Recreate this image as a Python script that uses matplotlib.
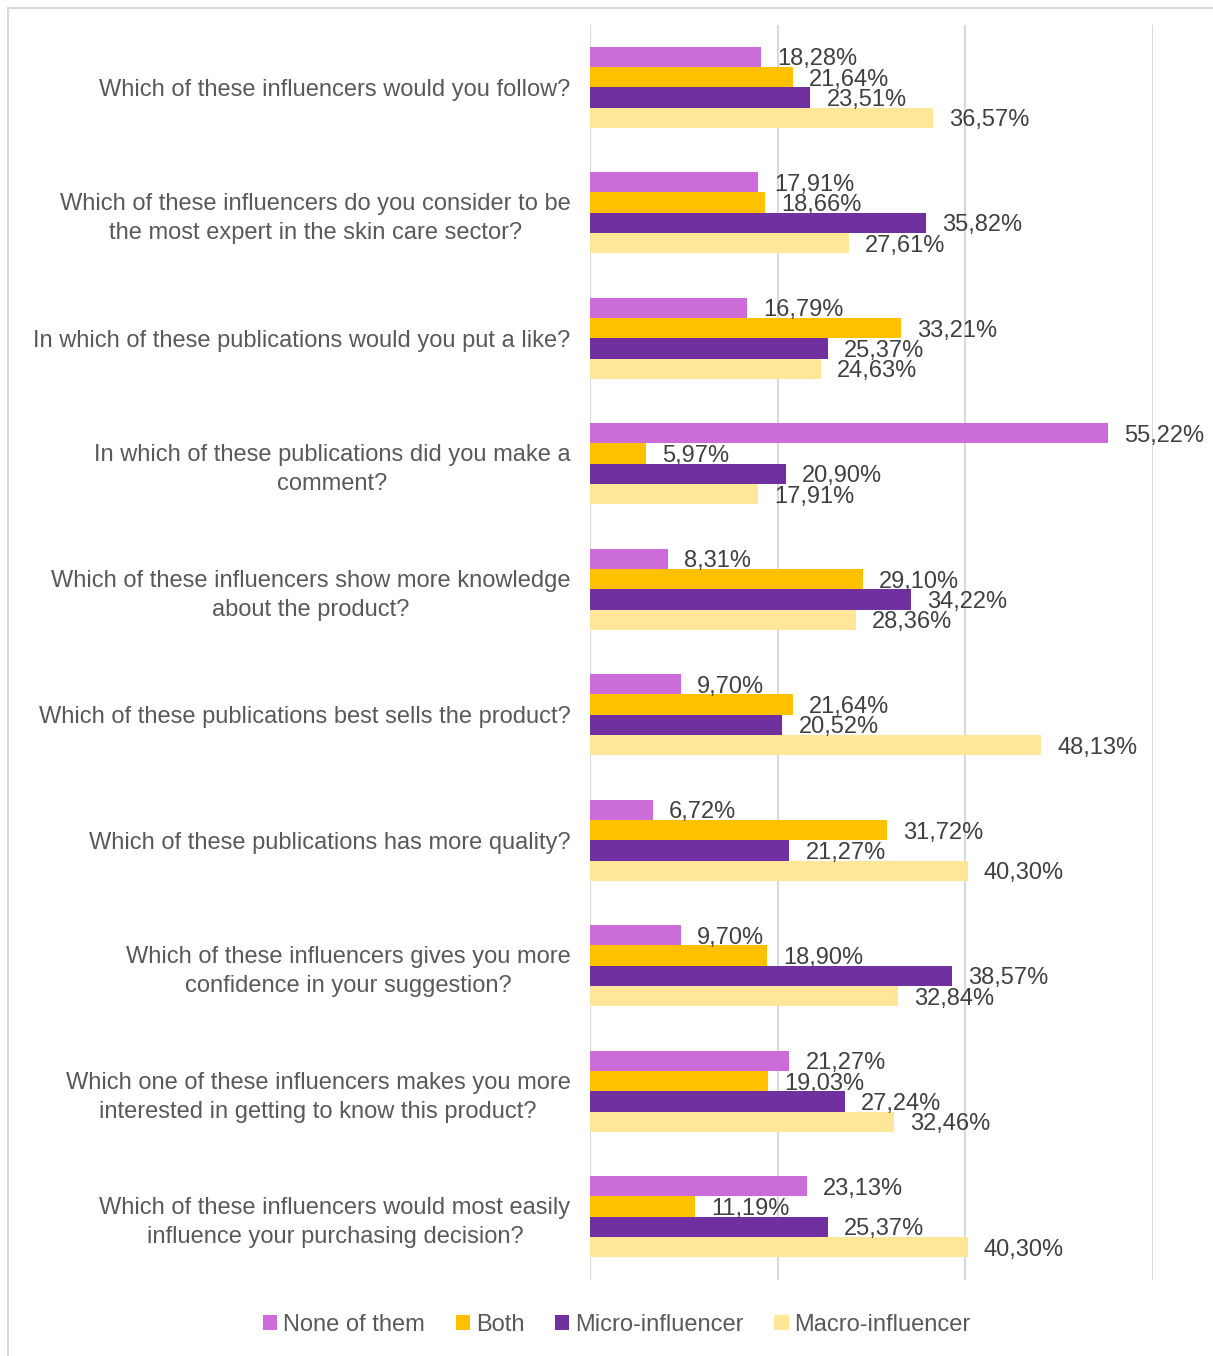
import numpy as np
import matplotlib.pyplot as plt
from matplotlib.patches import Rectangle, Patch
from matplotlib.transforms import offset_copy

plt.rcParams['font.family'] = ['Liberation Sans', 'DejaVu Sans']

questions = [
    "Which of these influencers would you follow?",
    "Which of these influencers do you consider to be\nthe most expert in the skin care sector?",
    "In which of these publications would you put a like?",
    "In which of these publications did you make a\ncomment?",
    "Which of these influencers show more knowledge\nabout the product?",
    "Which of these publications best sells the product?",
    "Which of these publications has more quality?",
    "Which of these influencers gives you more\nconfidence in your suggestion?",
    "Which one of these influencers makes you more\ninterested in getting to know this product?",
    "Which of these influencers would most easily\ninfluence your purchasing decision?",
]

none_of_them = [18.28, 17.91, 16.79, 55.22, 8.31, 9.70, 6.72, 9.70, 21.27, 23.13]
both = [21.64, 18.66, 33.21, 5.97, 29.10, 21.64, 31.72, 18.90, 19.03, 11.19]
micro = [23.51, 35.82, 25.37, 20.90, 34.22, 20.52, 21.27, 38.57, 27.24, 25.37]
macro = [36.57, 27.61, 24.63, 17.91, 28.36, 48.13, 40.30, 32.84, 32.46, 40.30]

series = [
    ("None of them", none_of_them, "#CB6CD9"),
    ("Both", both, "#FFC000"),
    ("Micro-influencer", micro, "#7030A0"),
    ("Macro-influencer", macro, "#FFE699"),
]

W, H = 1213, 1356
fig = plt.figure(figsize=(W / 100, H / 100), dpi=100)
ax = fig.add_axes([590 / W, 1 - 1279.5 / H, (1152.5 - 590) / W, (1279.5 - 24.5) / H])

# outer frame of the chart area
fig.patches.append(Rectangle((7.5 / W, -0.1), 1.2, 1 - 8.5 / H + 0.1,
                             transform=fig.transFigure, fill=False,
                             edgecolor="#D9D9D9", linewidth=1.5))

y = np.arange(len(questions))
bar_h = 0.162
label_tf = offset_copy(ax.transData, fig=fig, x=16, y=-2.5, units='dots')
for i, (name, vals, color) in enumerate(series):
    pos = y - 1.5 * bar_h + i * bar_h
    ax.barh(pos, vals, height=bar_h, color=color, label=name, zorder=3)
    for p, v in zip(pos, vals):
        ax.text(v, p, f"{v:.2f}%".replace(".", ","), transform=label_tf,
                ha='left', va='center', fontsize=17, color="#404040",
                clip_on=False, zorder=4)

ax.set_xlim(0, 60)
ax.set_ylim(len(questions) - 0.5, -0.5)
ax.set_xticks([0, 20, 40, 60])
ax.xaxis.grid(True, color="#D9D9D9", linewidth=1.5, zorder=0)
ax.tick_params(axis='x', length=0, labelbottom=False)
ax.tick_params(axis='y', length=0, pad=14)
ax.set_yticks(y)
ax.set_yticklabels(questions, fontsize=17, color="#595959",
                   multialignment='center', linespacing=1.4)
for s in ax.spines.values():
    s.set_visible(False)

handles = [Patch(facecolor=c, edgecolor='none') for _, _, c in series]
fig.legend(handles, [n for n, _, _ in series], loc='center',
           bbox_to_anchor=(617 / W, 1 - 1325 / H), ncol=4, frameon=False,
           fontsize=17, labelcolor="#595959", handlelength=0.6,
           handleheight=0.6, handletextpad=0.25, columnspacing=1.3)

fig.savefig("out.png", dpi=100, facecolor='white')
